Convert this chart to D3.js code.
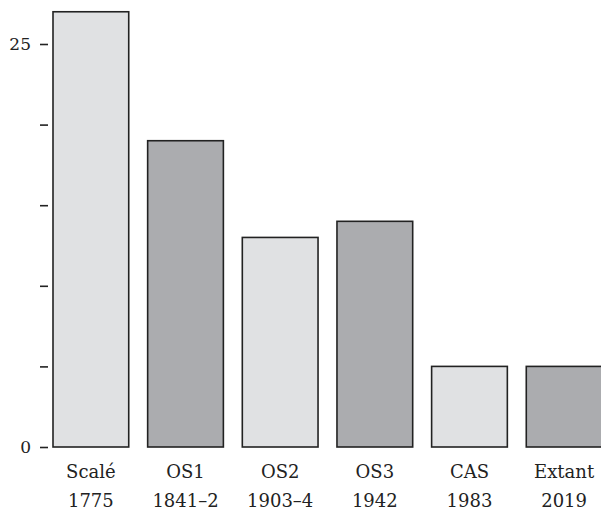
<!DOCTYPE html>
<html>
<head>
<meta charset="utf-8">
<script src="https://cdn.jsdelivr.net/npm/d3@7"></script>
<style>
  body { margin: 0; background: #fff; }
  text { font-family: "DejaVu Serif", serif; fill: #222; }
</style>
</head>
<body>
<div id="chart"></div>
<script>
// Chart data
const names = ["Scalé", "OS1", "OS2", "OS3", "CAS", "Extant"];
const years = ["1775", "1841\u20132", "1903\u20134", "1942", "1983", "2019"];
const counts = [27, 19, 13, 14, 5, 5];
const shades = ["#e0e1e3", "#abacaf", "#e0e1e3", "#abacaf", "#e0e1e3", "#abacaf"];
const yTicks = [0, 5, 10, 15, 20, 25];
const yTickLabels = ["0", "", "", "", "", "25"];

const width = 601, height = 510;

const svg = d3.select("#chart")
    .append("svg")
    .attr("width", width)
    .attr("height", height);

const x = d3.scaleBand()
    .domain(names)
    .range([53, 602])
    .paddingInner(0.2)
    .paddingOuter(0);

const y = d3.scaleLinear()
    .domain([0, 25])
    .range([447, 44]);

// Bars
svg.selectAll(".bar")
    .data(names)
    .join("rect")
    .attr("class", "bar")
    .attr("x", d => x(d))
    .attr("y", (d, i) => y(counts[i]))
    .attr("width", x.bandwidth())
    .attr("height", (d, i) => y(0) - y(counts[i]))
    .style("fill", (d, i) => shades[i])
    .style("stroke", "#222")
    .style("stroke-width", 1.6);

// Y axis: ticks only, no domain line
const yAxis = svg.append("g")
    .attr("transform", "translate(48,0)")
    .call(d3.axisLeft(y).tickValues(yTicks).tickSize(8).tickPadding(9)
        .tickFormat((d, i) => yTickLabels[i]));
yAxis.select(".domain").remove();
yAxis.selectAll(".tick line").style("stroke", "#222").style("stroke-width", 1.6);
yAxis.selectAll(".tick text")
    .style("font-family", "DejaVu Serif, serif")
    .style("font-size", "17px")
    .style("fill", "#222");

// Category labels (two lines)
const labels = svg.selectAll(".cat")
    .data(names)
    .join("text")
    .attr("class", "cat")
    .attr("text-anchor", "middle")
    .style("font-size", "18px")
    .attr("x", d => x(d) + x.bandwidth() / 2);

labels.append("tspan")
    .attr("x", d => x(d) + x.bandwidth() / 2)
    .attr("y", 478)
    .text(d => d);

labels.append("tspan")
    .attr("x", d => x(d) + x.bandwidth() / 2)
    .attr("y", 507)
    .text((d, i) => years[i]);
</script>
</body>
</html>
